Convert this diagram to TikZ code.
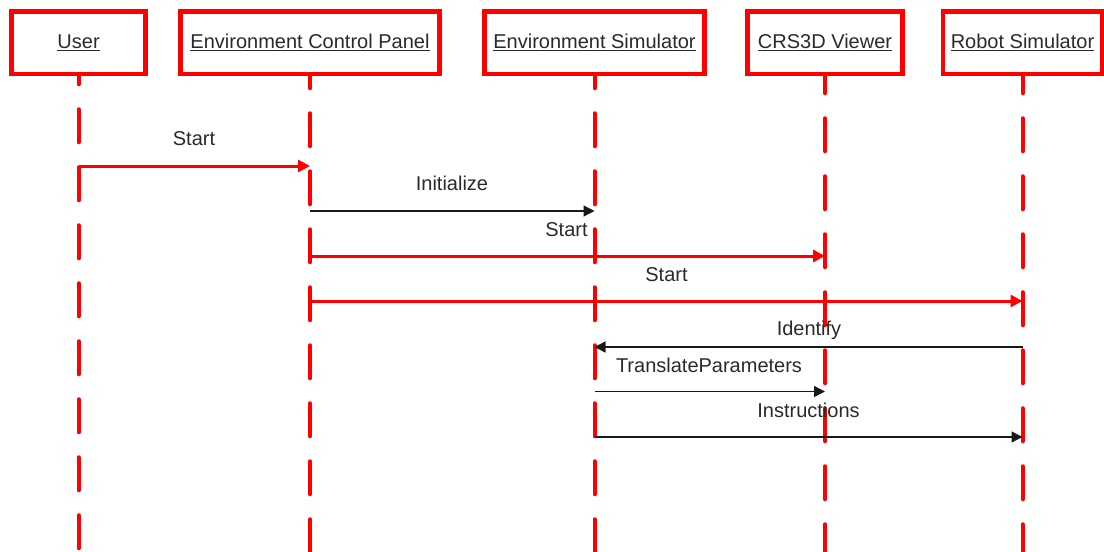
\documentclass[tikz,border=0pt]{standalone}
\usepackage{fontspec}
\setmainfont{Liberation Sans}
\usetikzlibrary{arrows.meta}
\definecolor{lifered}{RGB}{255,0,0}
\definecolor{ink}{RGB}{42,42,42}
\definecolor{msgblack}{RGB}{25,25,25}
% underlined participant name
\newcommand{\ulabel}[1]{\setbox0\hbox{#1}\rlap{\color{ink}\rule[-2.4pt]{\wd0}{1.3pt}}\box0}
\begin{document}
\begin{tikzpicture}[x=1pt,y=-1pt,
  font=\fontsize{20}{24}\selectfont,
  lane/.style={draw=lifered, line width=4.5pt, fill=white, inner sep=0pt, minimum height=62.3pt},
  headtext/.style={text=ink, anchor=base, inner sep=0pt},
  life/.style={draw=lifered, line width=4pt, line cap=round, dash pattern=on 33pt off 25pt},
  call/.style={draw=lifered, line width=3pt, -{Triangle[length=12pt,width=12pt]}},
  reply/.style={draw=msgblack, line width=1.3pt, -{Triangle[length=11pt,width=11pt]}},
  msglabel/.style={text=ink, anchor=base, inner sep=0pt}]
\useasboundingbox (0,0) rectangle (1104,552);
\fill[white] (0,0) rectangle (1104,552);

% participants
\node[lane, minimum width=133.8pt] (user) at (78.6,42.85) {};
\node[lane, minimum width=259pt]   (ecp)  at (310,42.85) {};
\node[lane, minimum width=220.4pt] (es)   at (594.5,42.85) {};
\node[lane, minimum width=155.4pt] (crs)  at (825,42.85) {};
\node[lane, minimum width=159.4pt] (rs)   at (1022.5,42.85) {};

\node[headtext] (userT) at (78.6,48.5)  {\ulabel{User}};
\node[headtext] (ecpT)  at (310,48.5)   {\ulabel{Environment Control Panel}};
\node[headtext] (esT)   at (594.5,48.5) {\ulabel{Environment Simulator}};
\node[headtext] (crsT)  at (825,48.5)   {\ulabel{CRS3D Viewer}};
\node[headtext] (rsT)   at (1022.5,48.5){\ulabel{Robot Simulator}};

% lifelines
\coordinate (bottom) at (0,552);
\draw[life, dash phase=25pt] (user.south) -- (user.south |- bottom);
\draw[life, dash phase=21pt] (ecp.south)  -- (ecp.south |- bottom);
\draw[life, dash phase=21pt] (es.south)   -- (es.south |- bottom);
\draw[life, dash phase=16pt] (crs.south)  -- (crs.south |- bottom);
\draw[life, dash phase=16pt] (rs.south)   -- (rs.south |- bottom);

% message rows
\coordinate (r1) at (0,166);
\coordinate (r2) at (0,211);
\coordinate (r3) at (0,256);
\coordinate (r4) at (0,301);
\coordinate (r5) at (0,347);
\coordinate (r6) at (0,391.5);
\coordinate (r7) at (0,437);

% messages
\draw[call]  (user |- r1) -- (ecp |- r1);
\draw[reply] (ecp |- r2)  -- (es |- r2);
\draw[call]  (ecp |- r3)  -- (crs |- r3);
\draw[call]  (ecp |- r4)  -- (rs |- r4);
\draw[reply] (rs |- r5)   -- (es |- r5);
\draw[reply] (es |- r6)   -- (crs |- r6);
\draw[reply] (es |- r7)   -- (rs |- r7);

% message labels
\node[msglabel] (m1) at (194,145)   {Start};
\node[msglabel] (m2) at (452,190)   {Initialize};
\node[msglabel] (m3) at (566.5,236) {Start};
\node[msglabel] (m4) at (666.5,281) {Start};
\node[msglabel] (m5) at (809,335)   {Identify};
\node[msglabel] (m6) at (709,372)   {TranslateParameters};
\node[msglabel] (m7) at (808.5,417) {Instructions};
\end{tikzpicture}
\end{document}
